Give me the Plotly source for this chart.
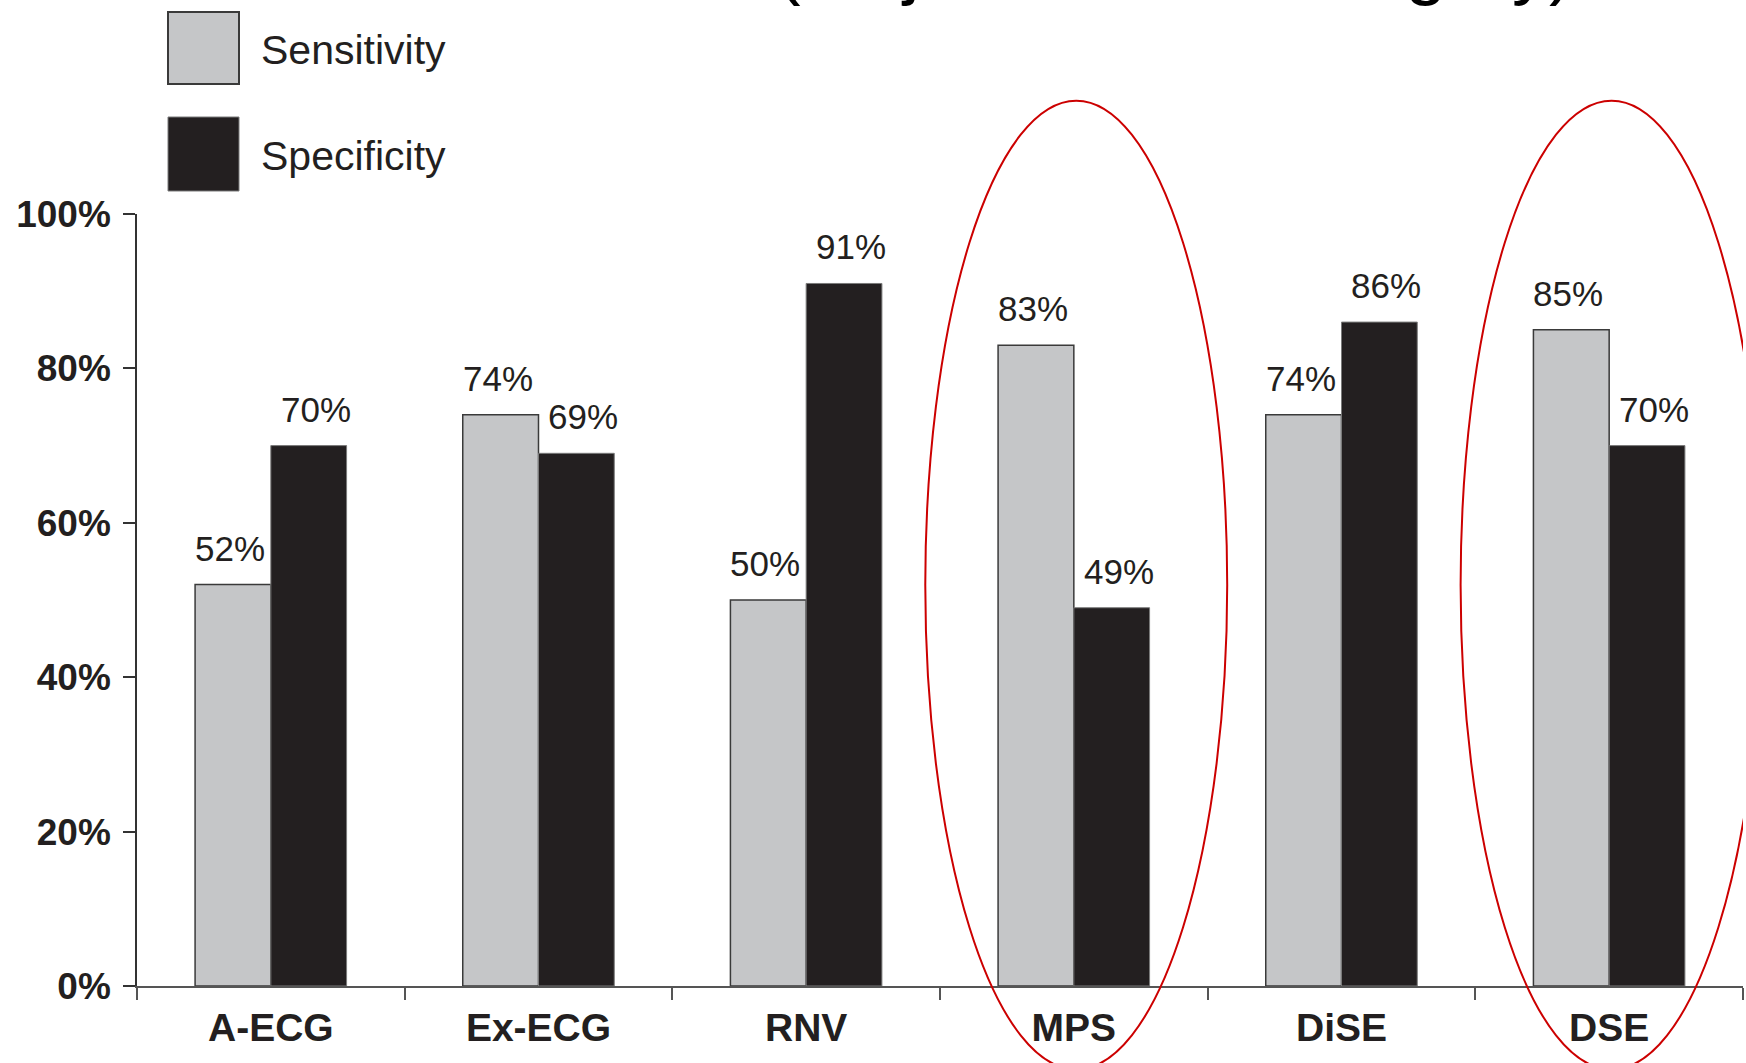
import plotly.graph_objects as go

# Diagnostic test performance per modality
categories = ["A-ECG", "Ex-ECG", "RNV", "MPS", "DiSE", "DSE"]
sensitivity = [52, 74, 50, 83, 74, 85]
specificity = [70, 69, 91, 49, 86, 70]
y_tick_vals = [0, 20, 40, 60, 80, 100]
y_tick_text = ["0%", "20%", "40%", "60%", "80%", "100%"]
highlighted = ["MPS", "DSE"]
series_names = ["Sensitivity", "Specificity"]
title_text = "(Major vascular surgery)"

# Page geometry and styling
W, H = 1746, 1063
ML, MR, MT, MB = 137, 3, 214, 77
BARGAP = 0.434
GRAY = "#c5c6c8"
BLACK = "#231f20"
INK = "#231f20"
FONT = "Liberation Sans, Arial, sans-serif"

plot_w = W - ML - MR
plot_h = H - MT - MB
cat_px = plot_w / len(categories)
bar_off = (1 - BARGAP) * cat_px / 4


def px_x(px):
    return (px - ML) / plot_w


def px_y(py):
    return (H - MB - py) / plot_h


fig = go.Figure()
fig.add_trace(go.Bar(
    x=categories, y=sensitivity, name=series_names[0],
    marker=dict(color=GRAY, line=dict(color="#3a3a3a", width=1.5)),
))
fig.add_trace(go.Bar(
    x=categories, y=specificity, name=series_names[1],
    marker=dict(color=BLACK, line=dict(color="#7a7a7a", width=1)),
))

annotations = []
# value labels above each bar
for cat, s, p in zip(categories, sensitivity, specificity):
    for val, shift in ((s, -bar_off - 3), (p, bar_off + 7)):
        annotations.append(dict(
            x=cat, y=val, xref="x", yref="y", text=f"{val}%",
            showarrow=False, xanchor="center", yanchor="bottom",
            xshift=shift, yshift=15,
            font=dict(family=FONT, size=35, color=INK),
        ))

# legend drawn as large swatches with labels
legend_rows = [
    (series_names[0], GRAY, "#3a3a3a", 2, 12, 84),
    (series_names[1], BLACK, "#7a7a7a", 1, 117, 191),
]
shapes = []
for name, fill, edge, lw, top, bottom in legend_rows:
    shapes.append(dict(
        type="rect", xref="paper", yref="paper",
        x0=px_x(168), x1=px_x(239), y0=px_y(bottom), y1=px_y(top),
        fillcolor=fill, line=dict(color=edge, width=lw), layer="above",
    ))
    annotations.append(dict(
        x=px_x(259), y=px_y((top + bottom) / 2 + 2), xref="paper", yref="paper",
        text=name, showarrow=False, xanchor="left", yanchor="middle",
        font=dict(family=FONT, size=41, color=INK),
    ))

# red ovals around highlighted modalities
for cat in highlighted:
    i = categories.index(cat)
    shapes.append(dict(
        type="circle", xref="x", yref="paper",
        x0=i - 0.555, x1=i + 0.573, y0=-0.108, y1=px_y(100.7),
        line=dict(color="#cc0000", width=2), layer="above",
    ))

# heading, mostly above the visible page
annotations.append(dict(
    x=px_x(774), y=px_y(-34), xref="paper", yref="paper",
    text=title_text, showarrow=False, xanchor="left", yanchor="middle",
    font=dict(family=FONT, size=74, color="#000000"),
))

fig.update_layout(
    width=W, height=H,
    margin=dict(l=ML, r=MR, t=MT, b=MB, pad=0),
    paper_bgcolor="white", plot_bgcolor="white",
    barmode="group", bargap=BARGAP, bargroupgap=0,
    showlegend=False,
    shapes=shapes, annotations=annotations,
    xaxis=dict(
        type="category", tickson="boundaries",
        range=[-0.5, len(categories) - 0.5], autorange=False,
        showline=True, linecolor="#555555", linewidth=2,
        ticks="outside", ticklen=12, tickwidth=1.5, tickcolor="#555555",
        showgrid=False, zeroline=False,
        tickfont=dict(family=FONT, size=39, color=INK, weight="bold"),
        ticklabelstandoff=6,
    ),
    yaxis=dict(
        range=[0, 100], autorange=False,
        tickvals=y_tick_vals, ticktext=y_tick_text,
        showline=True, linecolor="#333333", linewidth=1.5,
        ticks="outside", ticklen=12, tickwidth=1.5, tickcolor="#333333",
        showgrid=False, zeroline=False,
        tickfont=dict(family=FONT, size=37, color=INK, weight="bold"),
        ticklabelstandoff=5,
    ),
)

fig.write_html("out.html")
